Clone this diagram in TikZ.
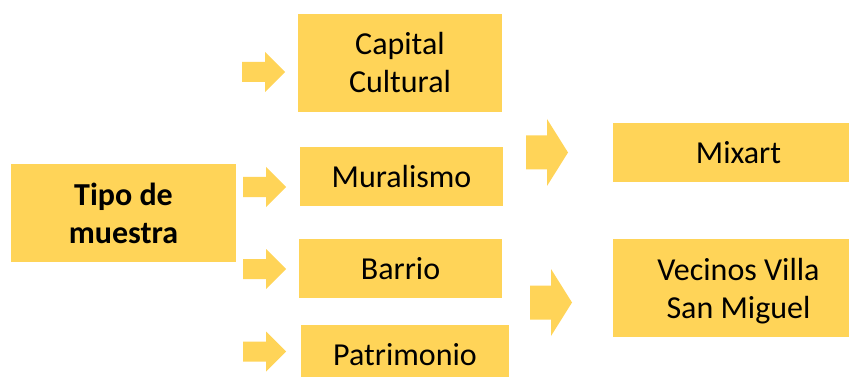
\documentclass[tikz,border=0pt]{standalone}
\usepackage{fontspec}
\setmainfont{Carlito}
\definecolor{gold}{RGB}{255,212,88}
\begin{document}
\begin{tikzpicture}[x=1pt,y=-1pt,
  box/.style={rectangle,fill=gold,inner sep=0pt,align=center,
    font=\fontsize{32}{38}\selectfont,text=black},
  smallarrow/.pic={\fill[gold] (0,-10)--(23,-10)--(23,-20)--(43,0)--(23,20)--(23,10)--(0,10)--cycle;},
  bigarrow/.pic={\fill[gold] (0,-17)--(21,-17)--(21,-33.5)--(42,0)--(21,33.5)--(21,17)--(0,17)--cycle;}]
\clip (0,0) rectangle (849,377);
\fill[white] (0,0) rectangle (849,377);
% nodes
\node[box,minimum width=225pt,minimum height=98pt,font=\fontsize{32}{38}\selectfont\bfseries] (tipo) at (123.5,213) {Tipo de\\muestra};
\node[box,minimum width=204pt,minimum height=98pt] (capital) at (400,63) {Capital\\Cultural};
\node[box,minimum width=203pt,minimum height=59pt] (mural) at (401.5,176.5) {Muralismo};
\node[box,minimum width=203pt,minimum height=59pt] (barrio) at (400.5,268.5) {Barrio};
\node[box,minimum width=208pt,minimum height=59pt] (patri) at (405,354.5) {Patrimonio};
\node[box,minimum width=251pt,minimum height=59pt] (mixart) at (738.5,152.5) {Mixart};
\node[box,minimum width=251pt,minimum height=98pt,text depth=0pt] (vecinos) at (738.5,288) {Vecinos Villa\\San Miguel};
% block arrows
\pic at (242,72) {smallarrow};
\pic at (243,187) {smallarrow};
\pic at (243,269) {smallarrow};
\pic at (243,351.5) {smallarrow};
\pic at (526,152.5) {bigarrow};
\pic at (530,302.5) {bigarrow};
\end{tikzpicture}
\end{document}
